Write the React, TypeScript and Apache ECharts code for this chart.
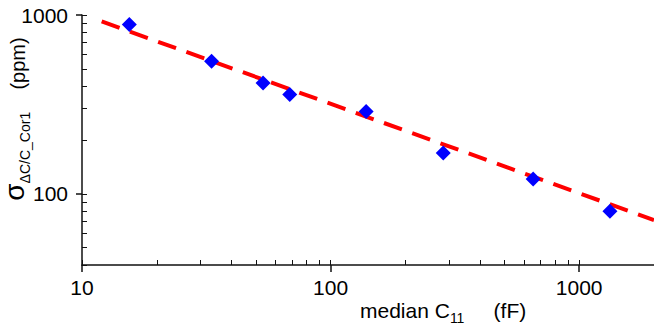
import React, { useEffect, useRef } from "react";
import * as echarts from "echarts";

// Measured data: median C11 (fF) vs sigma (ppm)
const medianC11 = [15.5, 33.2, 53.5, 68.5, 139, 284, 653, 1330];
const sigmaPpm = [885, 551, 417, 359, 289, 169, 121, 80];

// Fit line (power law) endpoints
const fitX = [12, 2000];
const fitY = [920, 71.3];

// Axis ticks
const xMajorTicks = [10, 100, 1000];
const xMinorTicks = [10, 20, 30, 40, 50, 60, 70, 80, 90, 100, 200, 300, 400, 500, 600, 700, 800, 900, 1000, 2000];
const yMajorTicks = [100, 1000];
const yMinorTicks = [40, 50, 60, 70, 80, 90, 100, 200, 300, 400, 500, 600, 700, 800, 900, 1000];

const FONT = "'Liberation Sans', Arial, sans-serif";
const AXIS_COLOR = "#111";

export default function App() {
  const ref = useRef<HTMLDivElement>(null);

  useEffect(() => {
    if (!ref.current) return;
    const chart = echarts.init(ref.current, null, { renderer: "svg" });

    const xRange = { min: 10, max: 2000 };
    const yRange = { min: 40, max: 1000 };
    const fmt = (v: number) => String(Math.round(v));

    chart.setOption({
      animation: false,
      backgroundColor: "#ffffff",
      grid: { left: 82, right: 0, top: 15, bottom: 65 },
      xAxis: [
        {
          type: "log",
          logBase: 10,
          ...xRange,
          position: "bottom",
          splitLine: { show: false },
          axisLine: { show: true, lineStyle: { color: AXIS_COLOR, width: 1.5 } },
          axisTick: {
            show: true,
            inside: false,
            length: 7,
            customValues: xMajorTicks,
            lineStyle: { color: AXIS_COLOR, width: 1.5 },
          },
          axisLabel: {
            show: true,
            customValues: xMajorTicks,
            formatter: fmt,
            margin: 12,
            color: "#000",
            fontSize: 21,
            fontFamily: FONT,
          },
        },
        {
          type: "log",
          logBase: 10,
          ...xRange,
          position: "bottom",
          splitLine: { show: false },
          axisLine: { show: false },
          axisLabel: { show: false },
          axisTick: {
            show: true,
            inside: true,
            length: 5,
            customValues: xMinorTicks,
            lineStyle: { color: AXIS_COLOR, width: 1 },
          },
        },
      ],
      yAxis: [
        {
          type: "log",
          logBase: 10,
          ...yRange,
          position: "left",
          splitLine: { show: false },
          axisLine: { show: true, lineStyle: { color: AXIS_COLOR, width: 1.5 } },
          axisTick: {
            show: true,
            inside: false,
            length: 6,
            customValues: yMajorTicks,
            lineStyle: { color: AXIS_COLOR, width: 1.5 },
          },
          axisLabel: {
            show: true,
            customValues: yMajorTicks,
            formatter: fmt,
            margin: 14,
            color: "#000",
            fontSize: 21,
            fontFamily: FONT,
          },
        },
        {
          type: "log",
          logBase: 10,
          ...yRange,
          position: "left",
          splitLine: { show: false },
          axisLine: { show: false },
          axisLabel: { show: false },
          axisTick: {
            show: true,
            inside: true,
            length: 5,
            customValues: yMinorTicks,
            lineStyle: { color: AXIS_COLOR, width: 1 },
          },
        },
      ],
      series: [
        {
          type: "line",
          xAxisIndex: 0,
          yAxisIndex: 0,
          data: fitX.map((x, i) => [x, fitY[i]]),
          symbol: "none",
          lineStyle: { color: "#ff0000", width: 4, type: [19, 11], cap: "butt" },
          z: 2,
        },
        {
          type: "scatter",
          xAxisIndex: 0,
          yAxisIndex: 0,
          data: medianC11.map((x, i) => [x, sigmaPpm[i]]),
          symbol: "diamond",
          symbolSize: 15,
          itemStyle: { color: "#0000ff", opacity: 1 },
          z: 3,
        },
      ],
      graphic: [
        {
          type: "text",
          x: 360,
          y: 304,
          style: {
            text: "{t|median C}{s|11}{t|     (fF)}",
            align: "left",
            verticalAlign: "top",
            fill: "#000",
            rich: {
              t: { fontSize: 21, lineHeight: 21, fontFamily: FONT, verticalAlign: "bottom", padding: [0, 0, 4, 0], fill: "#000" },
              s: { fontSize: 14, lineHeight: 14, fontFamily: FONT, verticalAlign: "bottom", padding: [0, 0, 0, 0], fill: "#000" },
            },
          },
        },
        {
          type: "text",
          x: 18.4,
          y: 119,
          rotation: Math.PI / 2,
          style: {
            text: "{g|σ}{s|ΔC/C_Cor1}{p|    (ppm)}",
            align: "center",
            verticalAlign: "middle",
            fill: "#000",
            rich: {
              g: { fontSize: 28, lineHeight: 28, fontFamily: FONT, verticalAlign: "bottom", padding: [0, 0, 4.4, 0], fill: "#000" },
              s: { fontSize: 14, lineHeight: 14, fontFamily: FONT, verticalAlign: "bottom", padding: [0, 0, 0, 0], fill: "#000" },
              p: { fontSize: 20, lineHeight: 20, fontFamily: FONT, verticalAlign: "bottom", padding: [0, 0, 4.1, 0], fill: "#000" },
            },
          },
        },
      ],
    });

    return () => chart.dispose();
  }, []);

  return (
    <div
      ref={ref}
      style={{ position: "absolute", left: 0, top: 0, width: 654, height: 330, background: "#fff" }}
    />
  );
}
